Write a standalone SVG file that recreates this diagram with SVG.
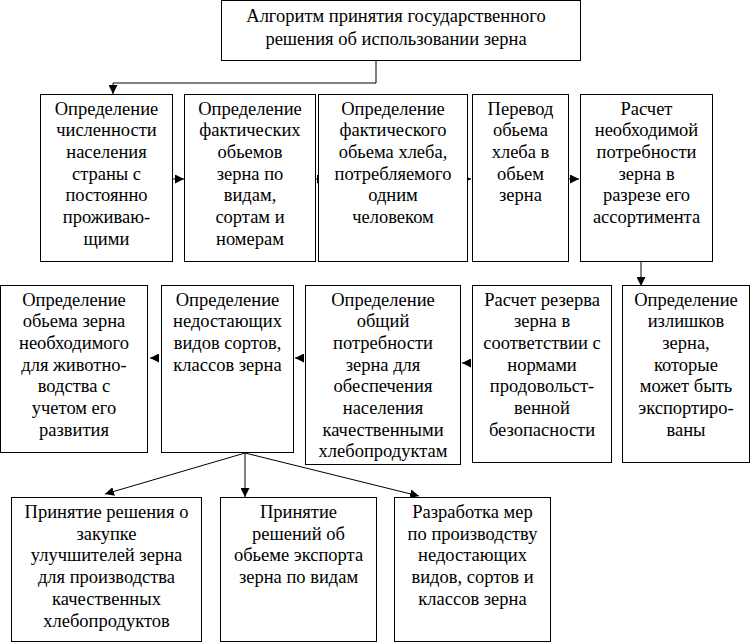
<svg xmlns="http://www.w3.org/2000/svg" width="756" height="644" viewBox="0 0 756 644">
<defs>
<style>
.box{fill:#fff;stroke:#000;stroke-width:1}
.t{font-family:'Liberation Serif','Times New Roman',serif;font-size:18.5px;text-anchor:middle;fill:#000}
.ln{fill:none;stroke:#000;stroke-width:1}
</style>
<marker id="ah" viewBox="0 0 10 10" refX="10" refY="5" markerWidth="9" markerHeight="9" markerUnits="userSpaceOnUse" orient="auto">
<path d="M0,0 L10,5 L0,10 Z" fill="#000"/>
</marker>
</defs>
<rect width="756" height="644" fill="#fff"/>

<g id="connectors">
<polyline class="ln" points="376,61 376,83 113,83 113,94" marker-end="url(#ah)"/>
<line class="ln" x1="173" y1="179" x2="184" y2="179" marker-end="url(#ah)"/>
<line class="ln" x1="316" y1="179" x2="326" y2="179" marker-end="url(#ah)"/>
<line class="ln" x1="462" y1="179" x2="471" y2="179" marker-end="url(#ah)"/>
<line class="ln" x1="569" y1="179" x2="579" y2="179" marker-end="url(#ah)"/>
<line class="ln" x1="641" y1="262" x2="641" y2="286" marker-end="url(#ah)"/>
<line class="ln" x1="471" y1="363" x2="462" y2="363" marker-end="url(#ah)"/>
<line class="ln" x1="304" y1="358" x2="295" y2="358" marker-end="url(#ah)"/>
<line class="ln" x1="159" y1="358" x2="150" y2="358" marker-end="url(#ah)"/>
<line class="ln" x1="245" y1="453" x2="105" y2="494" marker-end="url(#ah)"/>
<line class="ln" x1="245" y1="453" x2="245" y2="497" marker-end="url(#ah)"/>
<line class="ln" x1="245" y1="453" x2="419" y2="496" marker-end="url(#ah)"/>
</g>

<g id="n0">
<rect class="box" x="221.5" y="0.5" width="359" height="60"/>
<text class="t"><tspan x="396" y="22">Алгоритм принятия государственного</tspan><tspan x="396" y="45">решения об использовании зерна</tspan></text>
</g>

<g id="n1">
<rect class="box" x="40.5" y="94.5" width="132" height="167"/>
<text class="t"><tspan x="106.5" y="114.5">Определение</tspan><tspan x="106.5" dy="21.7">численности</tspan><tspan x="106.5" dy="21.7">населения</tspan><tspan x="106.5" dy="21.7">страны с</tspan><tspan x="106.5" dy="21.7">постоянно</tspan><tspan x="106.5" dy="21.7">проживаю-</tspan><tspan x="106.5" dy="21.7">щими</tspan></text>
</g>

<g id="n2">
<rect class="box" x="184.5" y="94.5" width="131" height="167"/>
<text class="t"><tspan x="250" y="114.5">Определение</tspan><tspan x="250" dy="21.7">фактических</tspan><tspan x="250" dy="21.7">обьемов</tspan><tspan x="250" dy="21.7">зерна по</tspan><tspan x="250" dy="21.7">видам,</tspan><tspan x="250" dy="21.7">сортам и</tspan><tspan x="250" dy="21.7">номерам</tspan></text>
</g>

<g id="n3">
<rect class="box" x="318.5" y="94.5" width="149" height="167"/>
<text class="t"><tspan x="393" y="114.5">Определение</tspan><tspan x="393" dy="21.7">фактического</tspan><tspan x="393" dy="21.7">обьема хлеба,</tspan><tspan x="393" dy="21.7">потребляемого</tspan><tspan x="393" dy="21.7">одним</tspan><tspan x="393" dy="21.7">человеком</tspan></text>
</g>

<g id="n4">
<rect class="box" x="472.5" y="94.5" width="96" height="167"/>
<text class="t"><tspan x="520.5" y="114.5">Перевод</tspan><tspan x="520.5" dy="21.7">обьема</tspan><tspan x="520.5" dy="21.7">хлеба в</tspan><tspan x="520.5" dy="21.7">обьем</tspan><tspan x="520.5" dy="21.7">зерна</tspan></text>
</g>

<g id="n5">
<rect class="box" x="580.5" y="94.5" width="132" height="167"/>
<text class="t"><tspan x="646.5" y="114.5">Расчет</tspan><tspan x="646.5" dy="21.7">необходимой</tspan><tspan x="646.5" dy="21.7">потребности</tspan><tspan x="646.5" dy="21.7">зерна в</tspan><tspan x="646.5" dy="21.7">разрезе его</tspan><tspan x="646.5" dy="21.7">ассортимента</tspan></text>
</g>

<g id="n6">
<rect class="box" x="0.5" y="285.5" width="147" height="167"/>
<text class="t"><tspan x="74" y="305.5">Определение</tspan><tspan x="74" dy="21.7">обьема зерна</tspan><tspan x="74" dy="21.7">необходимого</tspan><tspan x="74" dy="21.7">для животно-</tspan><tspan x="74" dy="21.7">водства с</tspan><tspan x="74" dy="21.7">учетом его</tspan><tspan x="74" dy="21.7">развития</tspan></text>
</g>

<g id="n7">
<rect class="box" x="161.5" y="285.5" width="132" height="167"/>
<text class="t"><tspan x="227.5" y="305.5">Определение</tspan><tspan x="227.5" dy="21.7">недостающих</tspan><tspan x="227.5" dy="21.7">видов сортов,</tspan><tspan x="227.5" dy="21.7">классов зерна</tspan></text>
</g>

<g id="n8">
<rect class="box" x="305.5" y="285.5" width="155" height="179"/>
<text class="t"><tspan x="383" y="305.5">Определение</tspan><tspan x="383" dy="21.7">общий</tspan><tspan x="383" dy="21.7">потребности</tspan><tspan x="383" dy="21.7">зерна для</tspan><tspan x="383" dy="21.7">обеспечения</tspan><tspan x="383" dy="21.7">населения</tspan><tspan x="383" dy="21.7">качественными</tspan><tspan x="383" dy="21.7">хлебопродуктам</tspan></text>
</g>

<g id="n9">
<rect class="box" x="472.5" y="285.5" width="139" height="177"/>
<text class="t"><tspan x="542" y="305.5">Расчет резерва</tspan><tspan x="542" dy="21.7">зерна в</tspan><tspan x="542" dy="21.7">соответствии с</tspan><tspan x="542" dy="21.7">нормами</tspan><tspan x="542" dy="21.7">продовольст-</tspan><tspan x="542" dy="21.7">венной</tspan><tspan x="542" dy="21.7">безопасности</tspan></text>
</g>

<g id="n10">
<rect class="box" x="622.5" y="285.5" width="127" height="177"/>
<text class="t"><tspan x="686" y="305.5">Определение</tspan><tspan x="686" dy="21.7">излишков</tspan><tspan x="686" dy="21.7">зерна,</tspan><tspan x="686" dy="21.7">которые</tspan><tspan x="686" dy="21.7">может быть</tspan><tspan x="686" dy="21.7">экспортиро-</tspan><tspan x="686" dy="21.7">ваны</tspan></text>
</g>

<g id="n11">
<rect class="box" x="11.5" y="497.5" width="190" height="144"/>
<text class="t"><tspan x="106.5" y="518">Принятие решения о</tspan><tspan x="106.5" dy="21.7">закупке</tspan><tspan x="106.5" dy="21.7">улучшителей зерна</tspan><tspan x="106.5" dy="21.7">для производства</tspan><tspan x="106.5" dy="21.7">качественных</tspan><tspan x="106.5" dy="21.7">хлебопродуктов</tspan></text>
</g>

<g id="n12">
<rect class="box" x="220.5" y="497.5" width="156" height="144"/>
<text class="t"><tspan x="298.5" y="518">Принятие</tspan><tspan x="298.5" dy="21.7">решений об</tspan><tspan x="298.5" dy="21.7">обьеме экспорта</tspan><tspan x="298.5" dy="21.7">зерна по видам</tspan></text>
</g>

<g id="n13">
<rect class="box" x="394.5" y="497.5" width="156" height="144"/>
<text class="t"><tspan x="472.5" y="518">Разработка мер</tspan><tspan x="472.5" dy="21.7">по производству</tspan><tspan x="472.5" dy="21.7">недостающих</tspan><tspan x="472.5" dy="21.7">видов, сортов и</tspan><tspan x="472.5" dy="21.7">классов зерна</tspan></text>
</g>
</svg>
